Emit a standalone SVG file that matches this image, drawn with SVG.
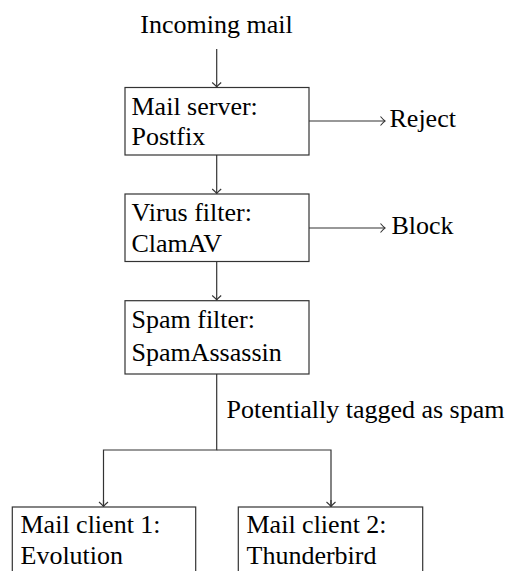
<svg xmlns="http://www.w3.org/2000/svg" width="520" height="571" viewBox="0 0 520 571">
<defs>
<style>
text{font-family:'Liberation Serif','DejaVu Serif',serif;font-size:26px;fill:#000}
.box{fill:#fff;stroke:#333;stroke-width:1.2}
.ln{fill:none;stroke:#333;stroke-width:1.2}
</style>
<marker id="to" markerUnits="userSpaceOnUse" markerWidth="12" markerHeight="12" viewBox="-6 -6 12 12" refX="0" refY="0" orient="auto">
<path d="M-4.5,-4.5 Q-1.5,-1 0,0 Q-1.5,1 -4.5,4.5" fill="none" stroke="#333" stroke-width="1.1"/>
</marker>
</defs>
<rect width="520" height="571" fill="#fff"/>
<g id="connectors">
<line class="ln" x1="216.7" y1="49" x2="216.7" y2="87" marker-end="url(#to)"/>
<line class="ln" x1="216.7" y1="155" x2="216.7" y2="193.5" marker-end="url(#to)"/>
<line class="ln" x1="216.7" y1="261.5" x2="216.7" y2="300" marker-end="url(#to)"/>
<line class="ln" x1="309" y1="121" x2="385" y2="121" marker-end="url(#to)"/>
<line class="ln" x1="309" y1="228" x2="385" y2="228" marker-end="url(#to)"/>
<path class="ln" d="M216.7,374 V450 H103.5 V506.5"/>
<path class="ln" d="M216.7,450 H331 V506.5"/>
<line class="ln" x1="103.5" y1="500" x2="103.5" y2="506.5" marker-end="url(#to)"/>
<line class="ln" x1="331" y1="500" x2="331" y2="506.5" marker-end="url(#to)"/>
</g>
<g id="incoming"><text x="216.5" y="33" text-anchor="middle" font-family="Liberation Serif">Incoming mail</text></g>
<g id="postfix">
<rect class="box" x="125" y="87.5" width="184" height="67.5"/>
<text x="131.5" y="114.5">Mail server:</text>
<text x="131.5" y="145">Postfix</text>
</g>
<g id="reject"><text x="389.5" y="127">Reject</text></g>
<g id="clamav">
<rect class="box" x="125" y="194" width="184" height="67.5"/>
<text x="131.5" y="221">Virus filter:</text>
<text x="131.5" y="251.5">ClamAV</text>
</g>
<g id="block"><text x="391.5" y="234">Block</text></g>
<g id="spamassassin">
<rect class="box" x="125" y="300.7" width="184" height="73.3"/>
<text x="131.5" y="328">Spam filter:</text>
<text x="131.5" y="361">SpamAssassin</text>
</g>
<g id="tag-label"><text x="226.5" y="417.5">Potentially tagged as spam</text></g>
<g id="evolution">
<rect class="box" x="12.3" y="507" width="183.4" height="80"/>
<text x="20.5" y="533">Mail client 1:</text>
<text x="20.5" y="564">Evolution</text>
</g>
<g id="thunderbird">
<rect class="box" x="238.3" y="507" width="184.4" height="80"/>
<text x="246.5" y="533">Mail client 2:</text>
<text x="246.5" y="564">Thunderbird</text>
</g>
</svg>
